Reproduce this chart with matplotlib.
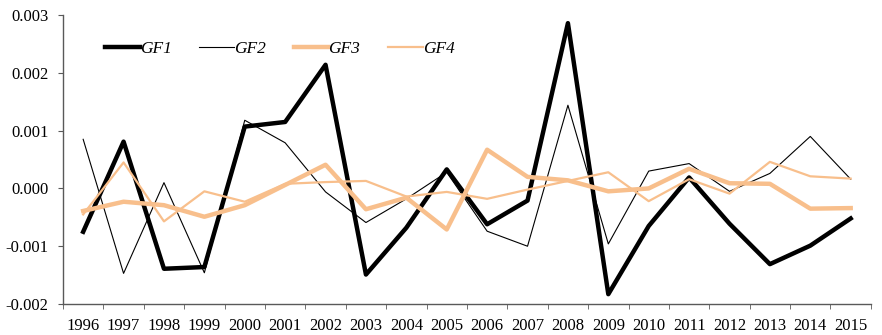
import numpy as np
import matplotlib
matplotlib.use("Agg")
import matplotlib.pyplot as plt

years = [str(y) for y in range(1996, 2016)]

gf1 = [-0.00075, 0.00081, -0.00139, -0.00136, 0.00107, 0.00115, 0.00214, -0.00149, -0.00068, 0.00033,
       -0.00062, -0.00021, 0.00286, -0.00183, -0.00065, 0.00019, -0.00061, -0.00131, -0.00099, -0.00052]
gf2 = [0.00085, -0.00147, 0.00010, -0.00146, 0.00118, 0.00079, -0.00006, -0.00059, -0.00018, 0.00028,
       -0.00074, -0.00100, 0.00144, -0.00096, 0.00030, 0.00043, -0.00005, 0.00026, 0.00090, 0.00016]
gf3 = [-0.00039, -0.00023, -0.00029, -0.00049, -0.00029, 0.00006, 0.00041, -0.00036, -0.00016, -0.00071,
       0.00067, 0.00020, 0.00014, -0.00005, 0.00000, 0.00034, 0.00009, 0.00008, -0.00035, -0.00034]
gf4 = [-0.00045, 0.00045, -0.00057, -0.00005, -0.00023, 0.00008, 0.00011, 0.00013, -0.00014, -0.00006,
       -0.00018, -0.00002, 0.00013, 0.00028, -0.00022, 0.00016, -0.00009, 0.00046, 0.00021, 0.00017]

orange = '#F8BF8C'
axis_color = '#595959'

plt.rcParams['font.family'] = ['Liberation Serif', 'DejaVu Serif']

fig = plt.figure(figsize=(8.82, 3.35), dpi=100)
ax = fig.add_axes([0.0714, 0.0925, 0.916, 0.8625])

x = np.arange(len(years))
ax.plot(x, gf1, color='black', lw=3.2, label='GF1')
ax.plot(x, gf2, color='black', lw=0.8, label='GF2')
ax.plot(x, gf3, color=orange, lw=3.2, label='GF3')
ax.plot(x, gf4, color=orange, lw=1.6, label='GF4')

ax.set_xlim(-0.5, len(years) - 0.5)
ax.set_ylim(-0.002, 0.003)
ax.set_yticks([-0.002, -0.001, 0.0, 0.001, 0.002, 0.003])
ax.set_yticklabels(['-0.002', '-0.001', '0.000', '0.001', '0.002', '0.003'])
ax.set_xticks(x)
ax.set_xticklabels(years)
ax.set_xticks(np.arange(-0.5, len(years), 1), minor=True)
ax.tick_params(axis='x', which='major', length=0, pad=10, labelsize=12)
ax.tick_params(axis='x', which='minor', length=3.6, color=axis_color, direction='out')
ax.tick_params(axis='y', length=3.6, color=axis_color, labelsize=12, pad=7)

for s in ['top', 'right']:
    ax.spines[s].set_visible(False)
for s in ['left', 'bottom']:
    ax.spines[s].set_color(axis_color)
    ax.spines[s].set_linewidth(1.0)

leg = ax.legend(loc='center left', bbox_to_anchor=(0.052, 0.882), ncol=4, frameon=False,
                borderpad=0, borderaxespad=0,
                handlelength=2.0, handletextpad=0.0, columnspacing=1.6,
                prop={'style': 'italic', 'size': 12.5})

fig.savefig('out.png', dpi=100)
